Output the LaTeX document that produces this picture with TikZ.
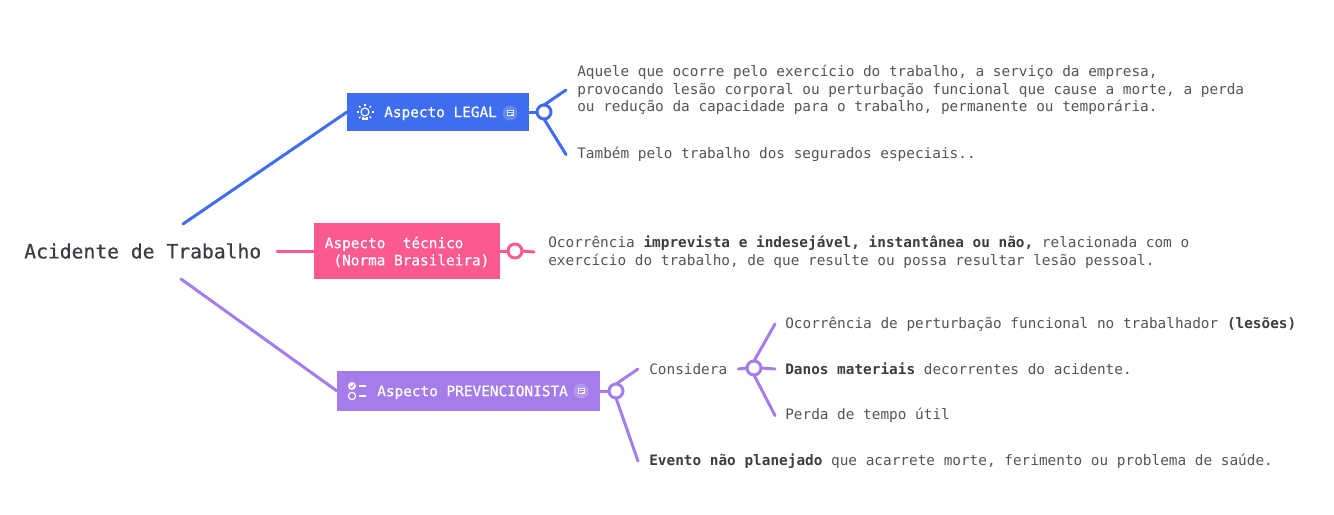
\documentclass[tikz,border=0pt]{standalone}
\usepackage{fontspec}
\usepackage{xcolor}
\setmainfont{DejaVu Sans Mono}
\newfontfamily\medfont[FakeBold=0.6]{DejaVu Sans Mono}
\usetikzlibrary{positioning}
\definecolor{legalblue}{HTML}{3E6DF0}
\definecolor{tecpink}{HTML}{FA5A8E}
\definecolor{prevpurple}{HTML}{A47DEB}
\definecolor{leaftext}{HTML}{555555}
\definecolor{darktext}{HTML}{3A3D42}

\begin{document}
\begin{tikzpicture}[
    x=0.75pt, y=-0.75pt,
    root/.style={inner sep=0pt, anchor=west, text=darktext, font=\medfont\fontsize{14.76}{18}\selectfont},
    box/.style={rectangle, fill=#1, text=white, anchor=west, align=flush left, font=\fontsize{10.79}{12.9}\selectfont},
    leaf/.style={inner ysep=0pt, inner xsep=8.25pt, anchor=west, align=left, text=leaftext, font=\fontsize{10.79}{13.3}\selectfont},
    hub/.style={circle, draw=#1, fill=white, line width=2.25pt, minimum size=10.5pt, inner sep=0pt, outer sep=0pt},
    link/.style={draw=#1, line width=2.25pt, line cap=round},
    bulb/.pic={
        \draw[white, line width=0.8pt] (0,-1) circle[radius=4];
        \draw[white, line width=0.8pt] (-2,3.5) -- (-2,6) -- (2,6) -- (2,3.5);
        \foreach \a in {0,45,135,180,225,315}
            \draw[white, line width=0.8pt] (\a:6.5) ++(0,-1) -- ++(\a:2);
        \draw[white, line width=0.8pt] (0,-7.5) -- (0,-9.5);
    },
    checklist/.pic={
        \fill[white] (0,-5) circle[radius=4];
        \draw[prevpurple, line width=0.7pt] (-2,-5) -- (-0.5,-3.5) -- (2,-6.5);
        \draw[white, line width=0.9pt] (0,5) circle[radius=3.6];
        \draw[white, line width=1.1pt] (7,-5) -- (14,-5);
        \draw[white, line width=1.1pt] (7,5) -- (14,5);
    },
    notebadge/.pic={
        \fill[white, opacity=0.2] (0,0) circle[radius=7.5];
        \fill[white, opacity=0.85] (-3.5,-3) rectangle (3.5,3);
        \draw[#1, line width=0.5pt] (-2.5,-1.3) -- (2.5,-1.3) (-2.5,0.3) -- (2.5,0.3) (-2.5,1.8) -- (0.5,1.8);
    }
]
    % centre
    \node [root] (acidente) at (24,251) {Acidente de Trabalho};
    \coordinate (legalstart) at (183,224);
    \coordinate (tecstart) at (277,251);
    \coordinate (prevstart) at (181,279);

    % boxes
    \node [box=legalblue, text width=136.5pt, inner xsep=0pt, minimum height=28.5pt, text height=9.6pt, text depth=1.9pt] (legal) at (347,112) {\hspace*{27.75pt}\medfont Aspecto LEGAL};
    \node [box=tecpink, inner xsep=7.9pt, minimum height=42pt] (tecnico) at (314,251) {\rule{0pt}{10pt}\medfont Aspecto~~técnico\\\medfont ~(Norma Brasileira)};
    \node [box=prevpurple, text width=197.25pt, inner xsep=0pt, minimum height=30pt, text height=9.6pt, text depth=1.9pt] (prev) at (337,391) {\hspace*{30pt}\medfont Aspecto PREVENCIONISTA};

    \pic at (365,113) {bulb};
    \pic at (352,391) {checklist};
    \pic at (510,113) {notebadge=legalblue};
    \pic at (581,391) {notebadge=prevpurple};

    % hubs
    \node [hub=legalblue] (legalhub) at (544,112) {};
    \node [hub=tecpink] (techub) at (515,251) {};
    \node [hub=prevpurple] (prevhub) at (616,391) {};
    \node [hub=prevpurple] (conshub) at (754,368) {};

    % texts
    \node [leaf] (legaldef) at (566,90) {Aquele que ocorre pelo exercício do trabalho, a serviço da empresa,\\provocando lesão corporal ou perturbação funcional que cause a morte, a perda\\ou redução da capacidade para o trabalho, permanente ou temporária.};
    \node [leaf] (legalesp) at (566,154.5) {Também pelo trabalho dos segurados especiais..};
    \node [leaf, inner xsep=10.5pt] (tecdef) at (534,252) {Ocorrência {\color{darktext}\textbf{imprevista e indesejável, instantânea ou não,}} relacionada com o\\exercício do trabalho, de que resulte ou possa resultar lesão pessoal.};
    \node [leaf] (considera) at (638,369) {Considera};
    \node [leaf] (evento) at (638,461) {{\color{darktext}\textbf{Evento não planejado}} que acarrete morte, ferimento ou problema de saúde.};
    \node [leaf, inner xsep=7.5pt] (lesoes) at (775,324) {Ocorrência de perturbação funcional no trabalhador {\color{darktext}\textbf{(lesões)}}};
    \node [leaf, inner xsep=7.5pt] (danos) at (775,369) {{\color{darktext}\textbf{Danos materiais}} decorrentes do acidente.};
    \node [leaf, inner xsep=7.5pt] (perda) at (775,415.5) {Perda de tempo útil};

    % connectors
    \draw [link=legalblue] (legalstart) -- (legal.west);
    \draw [link=tecpink] (tecstart) -- (tecnico.west);
    \draw [link=prevpurple] (prevstart) -- (prev.west);

    \draw [link=legalblue] (legal.east) -- (legalhub.west);
    \draw [link=legalblue] (legalhub.north) -- (legaldef.west);
    \draw [link=legalblue] (legalhub.south) -- (legalesp.west);

    \draw [link=tecpink] (tecnico.east) -- (techub.west);
    \draw [link=tecpink] (techub.east) -- (tecdef.west);

    \draw [link=prevpurple] (prev.east) -- (prevhub.west);
    \draw [link=prevpurple] (prevhub.north) -- (considera.west);
    \draw [link=prevpurple] (prevhub.south) -- (evento.west);
    \draw [link=prevpurple] (considera.east) -- (conshub.west);
    \draw [link=prevpurple] (conshub.north) -- (lesoes.west);
    \draw [link=prevpurple] (conshub.east) -- (danos.west);
    \draw [link=prevpurple] (conshub.south) -- (perda.west);

    \useasboundingbox (0,0) rectangle (1334,514);
\end{tikzpicture}
\end{document}
